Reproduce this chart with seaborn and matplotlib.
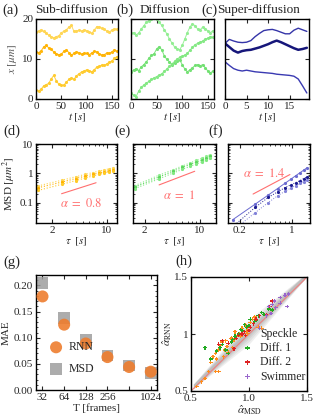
import numpy as np
import pandas as pd
import matplotlib
matplotlib.use('Agg')
import matplotlib.pyplot as plt
import seaborn as sns
from matplotlib.ticker import NullFormatter, NullLocator, MultipleLocator

# %% data
# top row trajectories
t_ab = list(range(0, 165, 5))
sub_top = [16.8, 17.0, 17.3, 16.9, 16.4, 16.0, 15.6, 15.3, 15.6, 15.8, 16.6, 16.9, 17.3, 18.0, 18.4, 16.9, 17.0,
           17.2, 17.0, 17.3, 17.1, 16.8, 16.4, 17.2, 18.1, 18.0, 17.7, 17.4, 17.0, 16.8, 17.2, 17.6, 17.4]
sub_mid = [11.8, 11.6, 12.0, 13.0, 13.4, 12.8, 12.4, 11.8, 11.3, 11.1, 11.2, 11.9, 12.3, 11.6, 11.0, 11.4, 11.8,
           11.6, 11.2, 11.5, 11.4, 11.1, 11.5, 11.9, 11.8, 11.3, 11.0, 11.1, 11.5, 11.4, 11.8, 12.3, 11.9]
sub_low = [2.2, 2.0, 2.4, 3.3, 3.6, 3.9, 5.0, 5.9, 4.6, 3.7, 3.4, 3.5, 4.2, 4.9, 5.3, 4.9, 5.8,
           6.3, 6.8, 7.0, 7.3, 7.1, 6.8, 7.3, 8.0, 8.2, 8.5, 8.4, 8.8, 9.2, 9.5, 10.2, 10.6]
dif_top = [16.4, 16.6, 16.0, 16.5, 17.5, 18.3, 19.2, 19.6, 19.9, 20.3, 20.0, 19.2, 18.4, 17.3, 16.3, 15.0, 14.0,
           13.0, 12.6, 12.3, 13.4, 15.0, 16.6, 18.0, 18.8, 18.3, 17.5, 17.3, 18.0, 17.6, 17.0, 16.6, 17.1]
dif_mid = [6.8, 7.2, 7.6, 7.1, 8.0, 8.6, 9.3, 10.2, 10.9, 11.3, 12.5, 13.1, 12.3, 10.8, 9.9, 9.3, 8.6,
           9.1, 9.5, 9.8, 8.6, 7.5, 6.8, 7.3, 7.8, 8.4, 8.6, 8.3, 8.6, 7.8, 7.0, 6.5, 7.0]
dif_low = [1.4, 1.0, 0.6, 2.0, 2.9, 3.5, 4.0, 4.4, 4.9, 5.3, 5.6, 6.0, 6.3, 6.9, 7.5, 8.2, 8.8,
           9.4, 10.0, 10.4, 10.7, 11.0, 11.4, 12.2, 12.9, 13.6, 13.9, 14.2, 14.5, 15.0, 15.2, 15.6, 15.4]
t_c = list(range(0, 20))
sup_top = [13.9, 14.9, 14.5, 14.2, 14.1, 14.2, 14.6, 15.6, 16.4, 17.1, 17.3, 17.4, 17.1, 16.7, 16.3, 16.3, 17.2, 17.7, 17.3, 16.9]
sup_mid = [13.9, 13.0, 12.1, 11.6, 12.0, 12.2, 12.3, 12.6, 12.9, 13.3, 13.7, 14.2, 14.6, 14.2, 13.7, 13.2, 12.7, 12.3, 12.5, 12.8]
sup_low = [9.3, 8.4, 7.6, 7.2, 7.0, 7.2, 7.0, 6.8, 6.7, 6.6, 6.5, 6.4, 6.2, 6.1, 6.0, 5.9, 5.7, 5.0, 3.3, 1.5]

# MSD panels
tau_d = [1.33, 2.67, 4.0, 5.33, 6.67, 8.0, 9.33, 10.67, 12.0]
msd_d1 = [0.37, 0.58, 0.76, 0.92, 1.06, 1.19, 1.31, 1.42, 1.53]
msd_d2 = [0.32, 0.50, 0.66, 0.80, 0.92, 1.03, 1.13, 1.22, 1.30]
msd_d3 = [0.26, 0.42, 0.56, 0.69, 0.81, 0.92, 1.02, 1.12, 1.21]
tau_e = [1.5, 3.0, 4.5, 6.0, 7.5, 9.0, 10.5, 12.0, 13.5]
msd_e1 = [0.38, 0.85, 1.30, 1.78, 2.25, 2.75, 3.25, 3.75, 4.30]
msd_e2 = [0.34, 0.74, 1.16, 1.58, 2.00, 2.42, 2.85, 3.30, 3.75]
msd_e3 = [0.30, 0.64, 1.00, 1.36, 1.72, 2.08, 2.45, 2.82, 3.20]
tau_f = [0.16, 0.32, 0.48, 0.64, 0.80, 0.96, 1.12, 1.28, 1.44, 1.60]
msd_f1 = [0.026, 0.088, 0.18, 0.30, 0.45, 0.62, 0.82, 1.04, 1.28, 1.55]
msd_f2 = [0.015, 0.068, 0.15, 0.23, 0.32, 0.40, 0.48, 0.56, 0.66, 0.76]
msd_f3 = [0.011, 0.045, 0.10, 0.17, 0.24, 0.31, 0.38, 0.45, 0.52, 0.60]
ref_d_tau, ref_d_msd = [2.65, 7.3], [0.20, 0.475]
ref_e_tau, ref_e_msd = [3.04, 8.6], [0.40, 1.17]
ref_f_tau, ref_f_msd = [0.30, 0.94], [0.195, 0.905]

# MAE vs trajectory length
T_frames = [32, 64, 128, 256, 512, 1024]
T_labels = ['32', '64', '128', '256', '', '1024']
mae_rnn = [0.179, 0.125, 0.089, 0.063, 0.044, 0.035]
mae_msd = [0.205, 0.138, 0.096, 0.066, 0.047, 0.032]

# alpha RNN vs alpha MSD
speckle_x = [0.55, 0.59, 0.62, 0.65, 0.67, 0.69, 0.71, 0.71, 0.74, 0.74, 0.75, 0.77, 0.78, 0.80, 0.81, 0.82, 0.84, 0.85,
             0.86, 0.88, 0.90, 0.92, 0.94, 0.97, 0.98, 1.01, 1.03, 1.05, 1.08, 1.11, 0.72, 0.79, 0.87, 0.93, 0.99]
speckle_y = [0.54, 0.58, 0.61, 0.67, 0.75, 0.80, 0.83, 0.67, 0.86, 0.67, 0.90, 0.93, 0.80, 0.94, 0.89, 0.84, 0.96, 0.97,
             0.88, 1.02, 0.99, 1.00, 1.05, 1.08, 1.02, 1.10, 1.13, 1.15, 1.06, 1.05, 0.78, 0.86, 0.95, 0.98, 1.04]
diff1_x = [0.62, 0.67, 0.72, 0.77, 0.80, 0.82, 0.85, 0.88, 0.91, 0.93, 0.96, 0.98, 1.01, 1.04, 1.05, 1.08, 1.11, 1.17,
           1.20, 0.75, 0.86, 0.94, 1.00, 1.06, 1.13]
diff1_y = [0.88, 0.78, 0.85, 0.91, 0.86, 0.83, 0.93, 0.98, 1.00, 1.04, 1.08, 1.06, 1.13, 1.09, 1.11, 1.16, 1.19, 1.22,
           1.21, 0.88, 0.95, 1.03, 1.07, 1.12, 1.17]
diff2_x = [0.74, 0.82, 0.87, 0.91, 0.94, 0.97, 1.00, 1.01, 1.04, 1.06, 1.09, 1.15, 1.18, 1.20, 0.77, 0.89, 0.96]
diff2_y = [0.91, 0.92, 0.87, 0.99, 1.00, 0.99, 1.03, 1.06, 1.09, 1.13, 1.16, 1.17, 1.24, 1.29, 0.94, 0.96, 1.02]
swim_x = [1.09, 1.17, 1.19, 1.22, 1.27, 1.31, 1.34, 1.33, 1.27, 1.23, 1.15, 1.20]
swim_y = [1.05, 1.24, 1.18, 1.29, 1.32, 1.34, 1.35, 1.24, 1.27, 1.23, 1.16, 1.26]

# %% style
sns.set_style('ticks')
plt.rcParams['font.family'] = ['Liberation Serif', 'DejaVu Serif']
plt.rcParams['mathtext.fontset'] = 'stix'

fig = plt.figure(figsize=(3.16, 4.18), dpi=100)


def pos(l, t, r, b):
    return [l / 316, 1 - b / 418, (r - l) / 316, (b - t) / 418]


def style(ax):
    ax.tick_params(which='major', direction='in', top=True, right=True, length=3, width=0.8, labelsize=8, pad=2)
    ax.tick_params(which='minor', direction='in', top=True, right=True, length=1.5, width=0.6)
    for s in ax.spines.values():
        s.set_linewidth(1.0)
        s.set_color('black')


# %% top row
axa = fig.add_axes(pos(36, 19, 118, 99))
axb = fig.add_axes(pos(131, 19, 214, 99))
axc = fig.add_axes(pos(225, 19, 309, 99))

for y, c in zip([sub_top, sub_mid, sub_low], ['#FFD54F', '#FFB300', '#FFCA28']):
    sns.lineplot(x=t_ab, y=y, ax=axa, color=c, lw=0.7, marker='.', markersize=3, mec=c, alpha=0.9)
for y, c in zip([dif_top, dif_mid, dif_low], ['#90EE90', '#6FE06F', '#80E880']):
    sns.lineplot(x=t_ab, y=y, ax=axb, color=c, lw=0.7, marker='.', markersize=3, mec=c, alpha=0.9)
for y, c, w in zip([sup_top, sup_mid, sup_low], ['#3535A8', '#16167A', '#3A3AB2'], [1.0, 1.8, 1.0]):
    sns.lineplot(x=t_c, y=y, ax=axc, color=c, lw=w)

for ax in (axa, axb):
    ax.set_xlim(0, 162)
    ax.set_xticks([0, 50, 100, 150])
axc.set_xlim(0, 19.5)
axc.set_xticks([0, 5, 10, 15])
for ax in (axa, axb, axc):
    ax.set_ylim(0, 20)
    ax.set_yticks([0, 10, 20])
    style(ax)
    ax.set_xlabel(r'$t\ [s]$', fontsize=8, labelpad=1)
axb.set_yticklabels([])
axc.set_yticklabels([])
axa.set_ylabel(r'$x\ [\mu m]$', fontsize=8, labelpad=2, color='#555555')

# %% MSD row
axd = fig.add_axes(pos(36, 144, 117, 223))
axe = fig.add_axes(pos(133, 144, 216, 223))
axf = fig.add_axes(pos(228, 144, 310, 223))

for y, c in zip([msd_d1, msd_d2, msd_d3], ['#FFD54F', '#FFB300', '#FFCA28']):
    sns.lineplot(x=tau_d, y=y, ax=axd, color=c, lw=0.8, ls=':', marker='.', markersize=3, mec=c)
for y, c in zip([msd_e1, msd_e2, msd_e3], ['#90EE90', '#5CD65C', '#80E880']):
    sns.lineplot(x=tau_e, y=y, ax=axe, color=c, lw=0.8, ls=':', marker='.', markersize=3, mec=c)
for y, c, ls in zip([msd_f1, msd_f2, msd_f3], ['#6A6AD0', '#1A1A90', '#8080D8'], ['-', ':', ':']):
    sns.lineplot(x=tau_f, y=y, ax=axf, color=c, lw=0.7, ls=ls, marker='.', markersize=3, mec=c)

red = '#FF6F6F'
sns.lineplot(x=ref_d_tau, y=ref_d_msd, ax=axd, color=red, lw=0.8)
sns.lineplot(x=ref_e_tau, y=ref_e_msd, ax=axe, color=red, lw=0.8)
sns.lineplot(x=ref_f_tau, y=ref_f_msd, ax=axf, color=red, lw=0.8)
axd.text(0.30, 0.25, r'$\alpha\ =\ 0.8$', transform=axd.transAxes, color=red, fontsize=9, va='center')
axe.text(0.36, 0.35, r'$\alpha\ =\ 1$', transform=axe.transAxes, color=red, fontsize=9, va='center')
axf.text(0.18, 0.63, r'$\alpha\ =\ 1.4$', transform=axf.transAxes, color=red, fontsize=9, va='center')

axd.set_xlim(1.25, 13.5)
axe.set_xlim(1.42, 16)
axf.set_xlim(0.138, 1.75)
for ax in (axd, axe, axf):
    ax.set_xscale('log')
    ax.set_yscale('log')
    ax.set_ylim(0.02, 10)
    ax.set_yticks([0.1, 1, 10])
    ax.xaxis.set_minor_formatter(NullFormatter())
    ax.yaxis.set_minor_formatter(NullFormatter())
    style(ax)
    ax.set_xlabel(r'$\tau\ \ [s]$', fontsize=8, labelpad=1)
axd.set_yticklabels(['0.1', '1', '10'])
axe.set_yticklabels([])
axf.set_yticklabels([])
axd.set_xticks([2, 10], ['2', '10'])
axe.set_xticks([2, 10], ['2', '10'])
axf.set_xticks([0.2, 1], ['0.2', '1'])
axd.set_ylabel(r'MSD $[\mu m^2]$', fontsize=8, labelpad=1)

# %% MAE panel
axg = fig.add_axes(pos(36, 275, 157, 390))
sns.scatterplot(x=T_frames, y=mae_msd, ax=axg, marker='s', s=70, color='#9E9E9E', alpha=0.85,
                edgecolor='none', label='MSD', zorder=2)
sns.scatterplot(x=T_frames, y=mae_rnn, ax=axg, marker='o', s=75, color='#EE7D2E', alpha=0.9,
                edgecolor='none', label='RNN', zorder=3)
axg.set_xscale('log', base=2)
axg.set_xlim(26, 1250)
axg.set_xticks(T_frames, T_labels)
axg.xaxis.set_minor_locator(NullLocator())
axg.set_ylim(0, 0.22)
axg.set_yticks([0, 0.05, 0.10, 0.15, 0.20], ['0.00', '0.05', '0.10', '0.15', '0.20'])
axg.yaxis.set_minor_locator(MultipleLocator(0.01))
style(axg)
axg.set_xlabel('T [frames]', fontsize=8, labelpad=1)
axg.set_ylabel('MAE', fontsize=8, labelpad=2)
h, l = axg.get_legend_handles_labels()
axg.legend(h[::-1], l[::-1], loc='lower left', bbox_to_anchor=(0.0, 0.06), frameon=False, fontsize=8.5,
           handletextpad=0.1, labelspacing=0.8, borderpad=0.2)

# %% alpha scatter panel
axh = fig.add_axes(pos(191, 277, 307, 391))
band_x = [0.52, 1.0, 1.48]
for w in [0.11, 0.085, 0.06, 0.04, 0.022]:
    axh.fill_between(band_x, [0.54 - 0.02, 1.02 - w, 1.5 - 0.02], [0.54 + 0.02, 1.02 + w, 1.5 + 0.02],
                     color='#555555', alpha=0.09, lw=0, zorder=0)
sns.lineplot(x=[0.5, 1.5], y=[0.5, 1.5], ax=axh, color='#F08080', lw=0.8, zorder=1)
for xs, ys, c, lab in [(speckle_x, speckle_y, '#FF8C1A', 'Speckle'),
                       (diff1_x, diff1_y, '#22AA22', 'Diff. 1'),
                       (diff2_x, diff2_y, '#DD2222', 'Diff. 2'),
                       (swim_x, swim_y, '#9966CC', 'Swimmer')]:
    sns.scatterplot(x=xs, y=ys, ax=axh, marker='P', s=7, color=c, edgecolor='none', label=lab, zorder=3)
axh.set_xlim(0.5, 1.5)
axh.set_ylim(0.5, 1.5)
axh.set_xticks([0.5, 1.0, 1.5], ['0.5', '1.0', '1.5'])
axh.set_yticks([0.5, 1.0, 1.5], ['0.5', '1', '1.5'])
style(axh)
axh.set_xlabel(r'$\hat{\alpha}_{\mathrm{MSD}}$', fontsize=8, labelpad=0)
axh.set_ylabel(r'$\hat{\alpha}_{\mathrm{RNN}}$', fontsize=8, labelpad=0)
axh.legend(loc='lower right', bbox_to_anchor=(1.06, 0.0), frameon=False, fontsize=8.5, handletextpad=0.1,
           labelspacing=0.2, borderpad=0.2, markerscale=1.3)

# %% panel labels and titles
def ftext(x, y, s, size):
    fig.text(x / 316, 1 - y / 418, s, fontsize=size, va='center', ha='left')

ftext(2, 10, '(a)', 10.5)
ftext(35, 10, 'Sub-diffusion', 9.5)
ftext(116, 10, '(b)', 10.5)
ftext(140, 10, 'Diffusion', 9.5)
ftext(201, 10, '(c)', 10.5)
ftext(217, 10, 'Super-diffusion', 9.5)
ftext(3, 131, '(d)', 10.5)
ftext(114, 131, '(e)', 10.5)
ftext(208, 131, '(f)', 10.5)
ftext(3, 262, '(g)', 10.5)
ftext(175, 261, '(h)', 10.5)

fig.savefig('out.png', dpi=100)
